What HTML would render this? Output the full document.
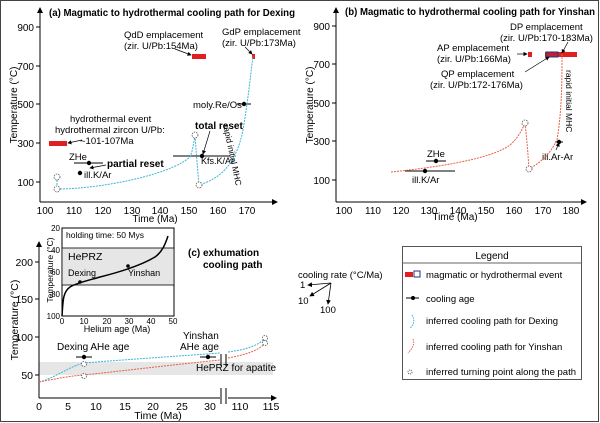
<!DOCTYPE html>
<html><head><meta charset="utf-8"><style>
body{margin:0;background:#fff}
svg{display:block;font-family:"Liberation Sans",Arial,sans-serif}
</style></head><body>
<svg width="600" height="423" viewBox="0 0 600 423" xmlns="http://www.w3.org/2000/svg">
<defs>
<marker id="ar" markerWidth="6" markerHeight="6" refX="5" refY="3" orient="auto"><path d="M0,0 L6,3 L0,6 z" fill="#000"/></marker>
</defs>
<rect x="0.5" y="0.5" width="598" height="421" fill="none" stroke="#444" stroke-width="1"/>

<!-- Panel a -->
<g font-size="10">
<line x1="40" y1="202" x2="40" y2="8" stroke="#000" marker-end="url(#ar)"/>
<line x1="40" y1="202" x2="277" y2="202" stroke="#000" marker-end="url(#ar)"/>
<g stroke="#000"><line x1="36" y1="27" x2="40" y2="27"/><line x1="36" y1="66" x2="40" y2="66"/><line x1="36" y1="104" x2="40" y2="104"/><line x1="36" y1="143" x2="40" y2="143"/><line x1="36" y1="182" x2="40" y2="182"/></g>
<g text-anchor="end"><text x="34" y="31">900</text><text x="34" y="70">700</text><text x="34" y="108">500</text><text x="34" y="147">300</text><text x="34" y="186">100</text></g>
<g text-anchor="middle"><text x="45" y="214">100</text><text x="74" y="214">110</text><text x="103" y="214">120</text><text x="132" y="214">130</text><text x="160" y="214">140</text><text x="189" y="214">150</text><text x="218" y="214">160</text><text x="247" y="214">170</text></g>
<text x="155" y="222" text-anchor="middle">Time  (Ma)</text>
<text transform="translate(17,105) rotate(-90)" text-anchor="middle">Temperature (°C)</text>
<text x="49" y="16" font-weight="bold" font-size="10" textLength="246" lengthAdjust="spacingAndGlyphs">(a) Magmatic to hydrothermal cooling path for Dexing</text>
<rect x="192" y="54" width="14" height="5" fill="#e02020"/>
<rect x="49" y="141" width="18" height="5" fill="#e02020"/>
<rect x="252" y="54" width="3" height="5" fill="#e02020"/>
<text x="124" y="38" font-size="9.5">QdD emplacement</text><text x="124" y="49" font-size="9.5">(zir. U/Pb:154Ma)</text>
<text x="222" y="35" font-size="9.5">GdP emplacement</text><text x="222" y="46" font-size="9.5">(zir. U/Pb:173Ma)</text>
<line x1="175" y1="49" x2="191" y2="55" stroke="#000" stroke-width="0.7" marker-end="url(#ar)"/>
<line x1="245" y1="47" x2="252" y2="54" stroke="#000" stroke-width="0.7" marker-end="url(#ar)"/>
<text x="70" y="122" font-size="9.5">hydrothermal event</text>
<text x="55" y="133" font-size="9.5">hydrothermal zircon U/Pb:</text>
<text x="80" y="144" font-size="9.5">~101-107Ma</text>
<line x1="82" y1="140" x2="68" y2="143" stroke="#000" stroke-width="0.7" marker-end="url(#ar)"/>
<text x="193" y="108" font-size="9.5">moly.Re/Os</text>
<text x="195" y="129" font-weight="bold" font-size="10">total reset</text>
<line x1="210" y1="131" x2="203" y2="154" stroke="#000" stroke-width="0.7" marker-end="url(#ar)"/>
<text x="201" y="164" font-size="9">Kfs.K/Ar</text>
<text x="69" y="160" font-size="9.5">ZHe</text>
<text x="107" y="167" font-weight="bold" font-size="10">partial reset</text>
<line x1="106" y1="165" x2="90" y2="168" stroke="#000" stroke-width="0.7" marker-end="url(#ar)"/>
<text x="84" y="178" font-size="9.5">ill.K/Ar</text>
<text transform="translate(223,125) rotate(78)" font-size="8.5">rapid initial MHC</text>
<g stroke="#000"><line x1="74" y1="163" x2="103" y2="163"/><line x1="173" y1="156" x2="230" y2="156"/><line x1="237" y1="104" x2="251" y2="104"/></g>
<g fill="#000"><circle cx="89" cy="163" r="2.2"/><circle cx="80" cy="173" r="2.2"/><circle cx="202" cy="156" r="2.2"/><circle cx="244" cy="104" r="2.2"/></g>
<path d="M57,177 L57,189 C100,189 170,175 190,157 C193,150 194,140 195,135 C196,150 198,175 199,185 C215,180 235,170 243,130 C248,100 250,80 253,56" fill="none" stroke="#3bb6d6" stroke-width="1" stroke-dasharray="2,1"/>
<g fill="#fff" stroke="#555" stroke-width="0.8" stroke-dasharray="1.5,1"><circle cx="57" cy="177" r="3"/><circle cx="57" cy="189" r="3"/><circle cx="195" cy="135" r="3"/><circle cx="199" cy="185" r="3"/></g>
</g>

<!-- Panel b -->
<g font-size="10">
<line x1="336" y1="202" x2="336" y2="8" stroke="#000" marker-end="url(#ar)"/>
<line x1="336" y1="202" x2="586" y2="202" stroke="#000" marker-end="url(#ar)"/>
<g stroke="#000"><line x1="332" y1="26" x2="336" y2="26"/><line x1="332" y1="64" x2="336" y2="64"/><line x1="332" y1="103" x2="336" y2="103"/><line x1="332" y1="141" x2="336" y2="141"/><line x1="332" y1="180" x2="336" y2="180"/></g>
<g text-anchor="end"><text x="330" y="30">900</text><text x="330" y="68">700</text><text x="330" y="107">500</text><text x="330" y="145">300</text><text x="330" y="184">100</text></g>
<g text-anchor="middle"><text x="344" y="214">100</text><text x="373" y="214">110</text><text x="401" y="214">120</text><text x="429" y="214">130</text><text x="458" y="214">140</text><text x="486" y="214">150</text><text x="514" y="214">160</text><text x="543" y="214">170</text><text x="571" y="214">180</text></g>
<text x="455" y="220" text-anchor="middle">Time  (Ma)</text>
<text transform="translate(313,105) rotate(-90)" text-anchor="middle">Temperature (°C)</text>
<text x="345" y="15" font-weight="bold" font-size="10" textLength="250" lengthAdjust="spacingAndGlyphs">(b) Magmatic to hydrothermal cooling path for Yinshan</text>
<rect x="528" y="52" width="4" height="5" fill="#e02020"/>
<rect x="545" y="52" width="32" height="5" fill="#e02020"/>
<rect x="546" y="52" width="12" height="5" fill="#c02030" stroke="#223388" stroke-width="1"/>
<text x="510" y="30" font-size="9.5">DP emplacement</text><text x="500" y="41" font-size="9.5">(zir. U/Pb:170-183Ma)</text>
<line x1="568" y1="42" x2="562" y2="53" stroke="#000" stroke-width="0.7" marker-end="url(#ar)"/>
<text x="437" y="51" font-size="9.5">AP emplacement</text><text x="437" y="62" font-size="9.5">(zir. U/Pb:166Ma)</text>
<line x1="517" y1="54" x2="527" y2="54" stroke="#000" stroke-width="0.7" marker-end="url(#ar)"/>
<text x="441" y="77" font-size="9.5">QP emplacement</text><text x="430" y="88" font-size="9.5">(zir. U/Pb:172-176Ma)</text>
<line x1="525" y1="72" x2="549" y2="57" stroke="#000" stroke-width="0.7" marker-end="url(#ar)"/>
<text transform="translate(566,70) rotate(90)" font-size="8.5">rapid initial MHC</text>
<text x="542" y="160" font-size="9.5">ill.Ar-Ar</text>
<line x1="556" y1="150" x2="559" y2="143" stroke="#000" stroke-width="0.7" marker-end="url(#ar)"/>
<text x="427" y="157" font-size="9.5">ZHe</text>
<text x="412" y="183" font-size="9.5">ill.K/Ar</text>
<g stroke="#000"><line x1="426" y1="161" x2="446" y2="161"/><line x1="405" y1="171" x2="455" y2="171"/><line x1="555" y1="142" x2="563" y2="142"/></g>
<g fill="#000"><circle cx="436" cy="161" r="2.2"/><circle cx="425" cy="171" r="2.2"/><circle cx="559" cy="142" r="2.2"/></g>
<path d="M391,172 C430,168 490,160 510,145 C518,138 522,130 525,123 C527,140 528,155 529,169 C545,160 552,150 557,140 C562,110 562,80 562,53" fill="none" stroke="#e8604a" stroke-width="1" stroke-dasharray="2,1"/>
<g fill="#fff" stroke="#555" stroke-width="0.8" stroke-dasharray="1.5,1"><circle cx="525" cy="123" r="3"/><circle cx="529" cy="169" r="3"/></g>
</g>

<!-- Panel c -->
<g font-size="10">
<rect x="39" y="362" width="234" height="13" fill="#e6e6e6"/>
<line x1="39" y1="398" x2="39" y2="242" stroke="#000" marker-end="url(#ar)"/>
<line x1="39" y1="398" x2="276" y2="398" stroke="#000" marker-end="url(#ar)"/>
<rect x="220" y="392" width="8" height="12" fill="#fff"/>
<g stroke="#000"><line x1="221" y1="388" x2="221" y2="404"/><line x1="226" y1="388" x2="226" y2="404"/><line x1="221" y1="354" x2="221" y2="366"/><line x1="226" y1="354" x2="226" y2="366"/></g>
<g stroke="#000"><line x1="35" y1="262" x2="39" y2="262"/><line x1="35" y1="299" x2="39" y2="299"/><line x1="35" y1="337" x2="39" y2="337"/><line x1="35" y1="375" x2="39" y2="375"/></g>
<g text-anchor="end" font-size="10.5"><text x="33" y="266">200</text><text x="33" y="303">150</text><text x="33" y="341">100</text><text x="33" y="379">50</text></g>
<g text-anchor="middle" font-size="10.5"><text x="39" y="410">0</text><text x="68" y="410">5</text><text x="96" y="410">10</text><text x="125" y="410">15</text><text x="153" y="410">20</text><text x="182" y="410">25</text><text x="210" y="410">30</text><text x="240" y="410">110</text><text x="271" y="410">115</text></g>
<text x="158" y="419" text-anchor="middle" font-size="10.5">Time  (Ma)</text>
<text transform="translate(18,320) rotate(-90)" text-anchor="middle" font-size="10.5">Temperature (°C)</text>
<text x="196" y="371" font-size="10">HePRZ for apatite</text>
<text x="57" y="350" font-size="10">Dexing  AHe age</text>
<text x="183" y="339" font-size="10">Yinshan</text><text x="180" y="350" font-size="10">AHe age</text>
<text x="188" y="256" font-weight="bold" font-size="10">(c) exhumation</text>
<text x="203" y="268" font-weight="bold" font-size="10">cooling path</text>
<g stroke="#000"><line x1="76" y1="357" x2="92" y2="357"/><line x1="200" y1="357" x2="216" y2="357"/></g>
<g fill="#000"><circle cx="84" cy="357" r="2.2"/><circle cx="208" cy="357" r="2.2"/></g>
<path d="M39,382 C55,378 70,366 84,363 C120,360 180,356 220,353 M228,352 C245,350 260,345 265,338" fill="none" stroke="#3bb6d6" stroke-width="1" stroke-dasharray="2,1"/>
<path d="M39,382 C60,378 70,376 84,375 C130,370 180,364 220,360 M228,358 C245,355 260,350 265,343" fill="none" stroke="#e8604a" stroke-width="1" stroke-dasharray="2,1"/>
<g fill="#fff" stroke="#555" stroke-width="0.8" stroke-dasharray="1.5,1"><circle cx="84" cy="364" r="2.5"/><circle cx="84" cy="376" r="2.5"/><circle cx="265" cy="338" r="2.5"/><circle cx="265" cy="343" r="2.5"/></g>
<!-- inset -->
<rect x="62" y="228" width="112" height="88" fill="#fff" stroke="#000"/>
<rect x="62" y="248" width="112" height="37" fill="#e6e6e6" stroke="#000" stroke-width="0.8"/>
<text x="66" y="238" font-size="8.5">holding time: 50 Mys</text>
<text x="68" y="260" font-size="10.5">HePRZ</text>
<text x="68" y="276" font-size="9">Dexing</text>
<text x="128" y="276" font-size="9">Yinshan</text>
<path d="M62,316 C63,300 63,292 70,287 C76,283 90,280 100,277 C120,272 140,266 155,257 C162,252 165,245 168,236" fill="none" stroke="#000" stroke-width="1.5"/>
<circle cx="80" cy="282" r="1.8" fill="#000"/><circle cx="128" cy="266" r="1.8" fill="#000"/>
<g font-size="8" text-anchor="middle"><text x="62" y="324">0</text><text x="84" y="324">10</text><text x="107" y="324">20</text><text x="129" y="324">30</text><text x="151" y="324">40</text><text x="173" y="324">50</text></g>
<g font-size="8" text-anchor="end"><text x="60" y="231">20</text><text x="60" y="253">40</text><text x="60" y="275">60</text><text x="60" y="297">80</text><text x="60" y="319">100</text></g>
<text x="117" y="332" font-size="9" text-anchor="middle">Helium age (Ma)</text>
<text transform="translate(53,270) rotate(-90)" font-size="8.5" text-anchor="middle">Temperature (°C)</text>
</g>

<!-- cooling rate -->
<g font-size="9.5">
<text x="298" y="278">cooling rate  (°C/Ma)</text>
<text x="300" y="288">1</text><text x="298" y="304">10</text><text x="320" y="313">100</text>
<g stroke="#000" stroke-width="0.8"><line x1="331" y1="283" x2="308" y2="285" marker-end="url(#ar)"/><line x1="331" y1="283" x2="310" y2="296" marker-end="url(#ar)"/><line x1="331" y1="283" x2="328" y2="304" marker-end="url(#ar)"/></g>
</g>

<!-- legend -->
<g font-size="9.5">
<rect x="402.5" y="246.5" width="179" height="133" fill="#fff" stroke="#555"/>
<line x1="403" y1="263" x2="581" y2="263" stroke="#999" stroke-width="1.5"/>
<text x="492" y="259" text-anchor="middle" font-size="10">Legend</text>
<rect x="405" y="272" width="8" height="5" fill="#e02020"/><rect x="414" y="271" width="6" height="6" fill="#fff" stroke="#223388"/>
<text x="426" y="278">magmatic or hydrothermal event</text>
<line x1="406" y1="298" x2="419" y2="298" stroke="#000"/><circle cx="413" cy="298" r="2" fill="#000"/>
<text x="426" y="302">cooling age</text>
<path d="M412,315 C415,320 414,325 410,328" fill="none" stroke="#3bb6d6" stroke-dasharray="1.5,1"/>
<text x="426" y="324">inferred cooling path for Dexing</text>
<path d="M413,339 C415,344 412,349 408,353" fill="none" stroke="#e8604a" stroke-dasharray="1.5,1"/>
<text x="426" y="350">inferred cooling path for Yinshan</text>
<circle cx="410" cy="372" r="2" fill="#fff" stroke="#555" stroke-dasharray="1,1"/>
<text x="426" y="375">inferred turning point along the path</text>
</g>
</svg>
</body></html>
